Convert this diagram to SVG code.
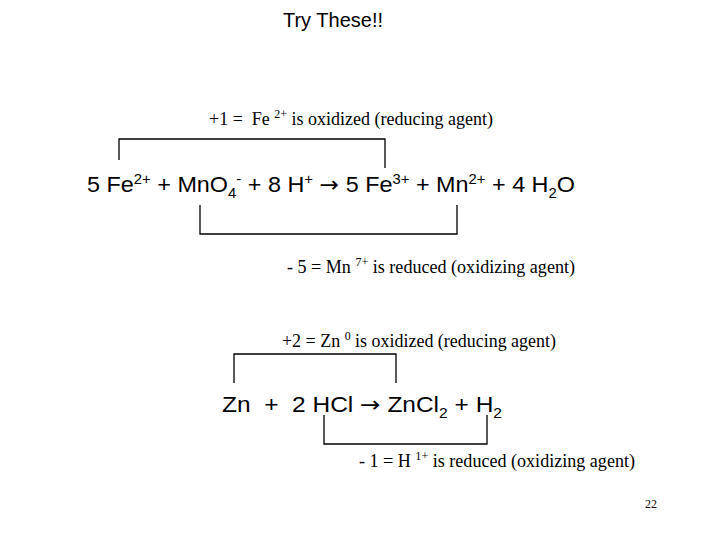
<svg xmlns="http://www.w3.org/2000/svg" width="720" height="540" viewBox="0 0 720 540">
<style>
.eq{font-family:"Liberation Sans",Arial,sans-serif;font-size:22px;fill:#000;white-space:pre}
.lb{font-family:"Liberation Serif","Times New Roman",serif;font-size:18px;fill:#000;white-space:pre}
.ar{font-family:"DejaVu Sans",sans-serif;font-size:22px}
.br{fill:none;stroke:#000;stroke-width:1.3}
</style>
<rect width="720" height="540" fill="#fff"/>
<text x="333" y="27" text-anchor="middle" font-family="Liberation Sans,Arial,sans-serif" font-size="20">Try These!!</text>
<g id="connectors">
<polyline class="br" points="119,160 119,139 385,139 385,168"/>
<polyline class="br" points="200,205 200,234 457,234 457,205"/>
<polyline class="br" points="234,383 234,354 396,354 396,383"/>
<polyline class="br" points="324,415 324,444 487,444 487,415"/>
</g>
<g id="eq1"><text class="eq" x="87" y="192" textLength="488" lengthAdjust="spacingAndGlyphs">5 Fe<tspan font-size="14" dy="-8">2+</tspan><tspan dy="8"> + MnO</tspan><tspan font-size="14" dy="6">4</tspan><tspan font-size="14" dy="-14">-</tspan><tspan dy="8"> + 8 H</tspan><tspan font-size="14" dy="-8">+</tspan><tspan dy="8"> </tspan><tspan class="ar">→</tspan> 5 Fe<tspan font-size="14" dy="-8">3+</tspan><tspan dy="8"> + Mn</tspan><tspan font-size="14" dy="-8">2+</tspan><tspan dy="8"> + 4 H</tspan><tspan font-size="14" dy="6">2</tspan><tspan dy="-6">O</tspan></text></g>
<g id="lab1"><text class="lb" x="209" y="125" textLength="284" lengthAdjust="spacingAndGlyphs">+1 =  Fe <tspan font-size="12" dy="-7">2+</tspan><tspan dy="7"> is oxidized (reducing agent)</tspan></text></g>
<g id="lab2"><text class="lb" x="287" y="273" textLength="288" lengthAdjust="spacingAndGlyphs">- 5 = Mn <tspan font-size="12" dy="-7">7+</tspan><tspan dy="7"> is reduced (oxidizing agent)</tspan></text></g>
<g id="eq2"><text class="eq" x="222" y="412" textLength="280" lengthAdjust="spacingAndGlyphs">Zn  +  2 HCl <tspan class="ar">→</tspan> ZnCl<tspan font-size="14" dy="6">2</tspan><tspan dy="-6"> + H</tspan><tspan font-size="14" dy="6">2</tspan></text></g>
<g id="lab3"><text class="lb" x="282" y="347" textLength="274" lengthAdjust="spacingAndGlyphs">+2 = Zn <tspan font-size="12" dy="-7">0</tspan><tspan dy="7"> is oxidized (reducing agent)</tspan></text></g>
<g id="lab4"><text class="lb" x="359" y="467" textLength="276" lengthAdjust="spacingAndGlyphs">- 1 = H <tspan font-size="12" dy="-7">1+</tspan><tspan dy="7"> is reduced (oxidizing agent)</tspan></text></g>
<text x="645" y="508" font-family="Liberation Serif,serif" font-size="12">22</text>
</svg>
